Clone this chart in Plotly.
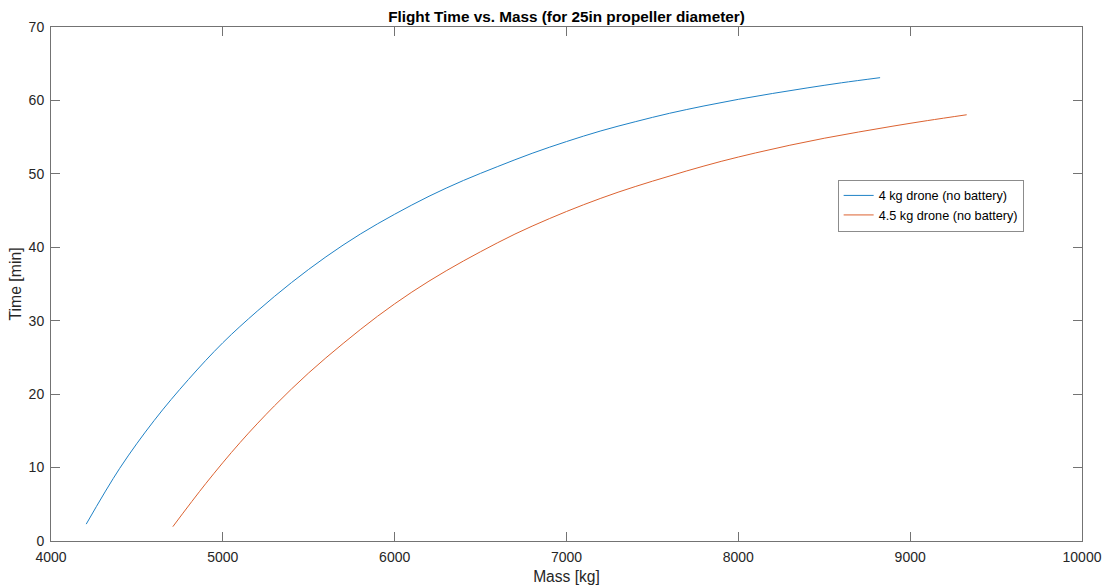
import plotly.graph_objects as go

# Data
mass_4kg = [4205, 4400, 4600, 4800, 5000, 5200, 5400, 5600, 5800, 6000, 6200, 6400,
            6600, 6800, 7000, 7200, 7400, 7600, 7800, 8000, 8200, 8400, 8600, 8825]
time_4kg = [2.3, 9.9, 16.4, 22.0, 27.0, 31.3, 35.2, 38.7, 41.8, 44.5, 46.95, 49.1,
            51.0, 52.8, 54.4, 55.85, 57.1, 58.25, 59.25, 60.15, 60.95, 61.7, 62.4, 63.1]

mass_45kg = [4709, 4900, 5100, 5300, 5500, 5700, 5900, 6100, 6300, 6500, 6700, 6900,
             7100, 7300, 7500, 7700, 7900, 8100, 8300, 8500, 8700, 8900, 9100, 9329]
time_45kg = [1.95, 7.8, 13.4, 18.4, 22.9, 26.9, 30.6, 33.9, 36.8, 39.4, 41.8, 43.9,
             45.8, 47.5, 49.0, 50.4, 51.7, 52.85, 53.9, 54.85, 55.7, 56.5, 57.25, 58.05]

x_ticks = [4000, 5000, 6000, 7000, 8000, 9000, 10000]
y_ticks = [0, 10, 20, 30, 40, 50, 60, 70]

FONT = "Liberation Sans, Arial, Helvetica, sans-serif"
TXT = "#262626"
AX = "#737373"

fig = go.Figure()
fig.add_trace(go.Scatter(x=mass_4kg, y=time_4kg, mode="lines", line_shape="spline",
                         name="4 kg drone (no battery)",
                         line=dict(color="#1f82c6", width=1, smoothing=1.0)))
fig.add_trace(go.Scatter(x=mass_45kg, y=time_45kg, mode="lines", line_shape="spline",
                         name="4.5 kg drone (no battery)",
                         line=dict(color="#dc6230", width=1, smoothing=1.0)))

axis_common = dict(showgrid=False, zeroline=False, showline=True, linecolor=AX,
                   linewidth=1, mirror="ticks", ticks="inside", ticklen=9,
                   tickcolor=AX, tickwidth=1, automargin=False, ticklabelstandoff=3,
                   tickfont=dict(family=FONT, size=14, color=TXT))

fig.update_xaxes(range=[4000, 10000], tickvals=x_ticks,
                 ticktext=[str(v) for v in x_ticks],
                 title=dict(text="Mass [kg]", font=dict(family=FONT, size=15.6, color=TXT),
                            standoff=7),
                 **axis_common)
fig.update_yaxes(range=[0, 70], tickvals=y_ticks,
                 ticktext=[str(v) for v in y_ticks],
                 title=dict(text="Time [min]", font=dict(family=FONT, size=15.8, color=TXT),
                            standoff=3),
                 **axis_common)

fig.update_layout(
    width=1103, height=587,
    margin=dict(l=51, r=21, t=27, b=46, autoexpand=False),
    paper_bgcolor="white", plot_bgcolor="white",
    title=dict(text="<b>Flight Time vs. Mass (for 25in propeller diameter)</b>",
               x=0.5, xref="paper", xanchor="center", y=1, yref="paper",
               yanchor="bottom", pad=dict(b=5),
               font=dict(family=FONT, size=15.3, color="black")),
    legend=dict(x=0.763, y=0.703, xanchor="left", yanchor="top",
                bgcolor="white", bordercolor="#8c8c8c", borderwidth=1,
                font=dict(family=FONT, size=12.7, color="black"),
                tracegroupgap=0, itemwidth=30),
    showlegend=True,
)

fig.write_html("out.html",
               config={"displayModeBar": False},
               post_script="document.body.style.margin='0';document.body.style.padding='0';"
                           "document.body.style.overflow='hidden';")
